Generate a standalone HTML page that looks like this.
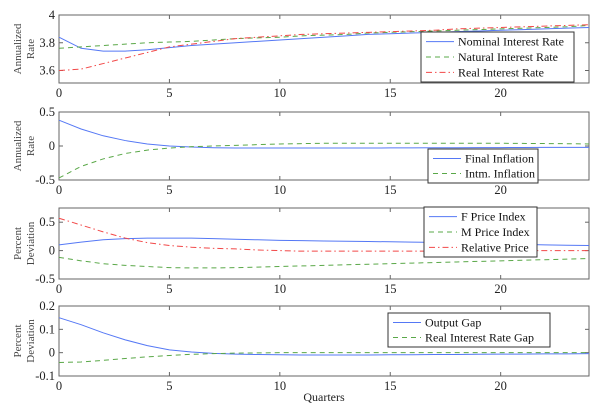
<!DOCTYPE html>
<html><head><meta charset="utf-8"><style>
body{margin:0;background:#fff}
svg, svg text{font-family:"Liberation Serif","Times New Roman","DejaVu Serif",serif}
</style></head><body>
<svg id="c" width="600" height="408" viewBox="0 0 600 408"></svg>
<script>
const quarters=[0,1,2,3,4,5,6,7,8,9,10,11,12,13,14,15,16,17,18,19,20,21,22,23,24];
const xTicks=[0,5,10,15,20];
const nominalRate=[3.84,3.76,3.74,3.74,3.75,3.765,3.78,3.79,3.80,3.81,3.82,3.83,3.84,3.85,3.86,3.865,3.87,3.875,3.88,3.885,3.89,3.895,3.9,3.905,3.91];
const naturalRate=[3.76,3.77,3.78,3.79,3.80,3.805,3.81,3.82,3.83,3.835,3.84,3.85,3.855,3.86,3.87,3.875,3.88,3.885,3.89,3.895,3.9,3.905,3.91,3.915,3.925];
const realRate=[3.60,3.61,3.65,3.69,3.73,3.77,3.79,3.81,3.83,3.84,3.85,3.86,3.865,3.87,3.875,3.88,3.885,3.89,3.9,3.905,3.91,3.915,3.92,3.925,3.93];
const finalInfl=[0.38,0.25,0.15,0.08,0.03,0.0,-0.015,-0.025,-0.03,-0.03,-0.03,-0.03,-0.03,-0.03,-0.03,-0.028,-0.027,-0.026,-0.025,-0.024,-0.023,-0.022,-0.021,-0.02,-0.02];
const intmInfl=[-0.47,-0.3,-0.19,-0.11,-0.06,-0.03,-0.01,0.0,0.01,0.02,0.03,0.035,0.04,0.04,0.04,0.04,0.04,0.04,0.04,0.04,0.04,0.038,0.036,0.034,0.03];
const fPrice=[0.1,0.15,0.19,0.21,0.22,0.22,0.22,0.21,0.2,0.19,0.18,0.175,0.17,0.165,0.16,0.155,0.15,0.145,0.14,0.13,0.12,0.11,0.1,0.095,0.09];
const mPrice=[-0.12,-0.18,-0.23,-0.26,-0.28,-0.3,-0.305,-0.305,-0.3,-0.29,-0.28,-0.27,-0.26,-0.25,-0.24,-0.23,-0.22,-0.21,-0.2,-0.19,-0.18,-0.17,-0.16,-0.15,-0.14];
const relPrice=[0.57,0.45,0.33,0.22,0.14,0.09,0.06,0.04,0.03,0.01,0.0,-0.01,-0.01,-0.01,-0.01,-0.01,-0.01,-0.01,-0.01,-0.01,-0.005,0,0,0,0];
const outputGap=[0.15,0.12,0.085,0.055,0.03,0.012,0.003,-0.003,-0.006,-0.008,-0.009,-0.01,-0.01,-0.01,-0.01,-0.009,-0.009,-0.008,-0.008,-0.007,-0.006,-0.006,-0.005,-0.005,-0.004];
const realRateGap=[-0.042,-0.04,-0.033,-0.025,-0.018,-0.012,-0.007,-0.004,-0.002,-0.001,0,0,0,0,0,0,0,0,0,0,0,0,0,0,0];

const NS="http://www.w3.org/2000/svg";
const FONT='"Liberation Serif","Times New Roman","DejaVu Serif",serif';
const svg=document.getElementById('c');
function el(t,a,p){const e=document.createElementNS(NS,t);for(const k in a)e.setAttribute(k,a[k]);if(t==='text')e.setAttribute('font-family',FONT);(p||svg).appendChild(e);return e;}
const X0=59,X1=589;
const xs=v=>X0+(v-0)/(24-0)*(X1-X0);
const BLUE='#5578f5',GREEN='#5aa848',RED='#f24848';
const styles={solid:{stroke:BLUE,dash:''},dash:{stroke:GREEN,dash:'5,4'},dashdot:{stroke:RED,dash:'6,3,1.5,3'}};
const panels=[
 {top:15,bot:83,ymin:3.51,ymax:4,ticks:[3.6,3.8,4],tl:['3.6','3.8','4'],yl:['Annualized','Rate'],
  series:[[nominalRate,'solid','Nominal Interest Rate'],[naturalRate,'dash','Natural Interest Rate'],[realRate,'dashdot','Real Interest Rate']],
  leg:{x:421,y:32,w:153,h:50}},
 {top:112,bot:180,ymin:-0.5,ymax:0.5,ticks:[-0.5,0,0.5],tl:['-0.5','0','0.5'],yl:['Annualized','Rate'],
  series:[[finalInfl,'solid','Final Inflation'],[intmInfl,'dash','Intm. Inflation']],
  leg:{x:428,y:149,w:110,h:34}},
 {top:208,bot:279,ymin:-0.5,ymax:0.75,ticks:[-0.5,0,0.5],tl:['-0.5','0','0.5'],yl:['Percent','Deviation'],
  series:[[fPrice,'solid','F Price Index'],[mPrice,'dash','M Price Index'],[relPrice,'dashdot','Relative Price']],
  leg:{x:424,y:207,w:113,h:50}},
 {top:306,bot:376,ymin:-0.1,ymax:0.2,ticks:[-0.1,0,0.1,0.2],tl:['-0.1','0','0.1','0.2'],yl:['Percent','Deviation'],
  series:[[outputGap,'solid','Output Gap'],[realRateGap,'dash','Real Interest Rate Gap']],
  leg:{x:388,y:313,w:162,h:34}}
];
panels.forEach((p,pi)=>{
 const g=el('g',{});
 
 
 const ys=v=>p.bot-(v-p.ymin)/(p.ymax-p.ymin)*(p.bot-p.top);
 el('rect',{x:X0,y:p.top,width:X1-X0,height:p.bot-p.top,fill:'#fff',stroke:'#666','stroke-width':1},g);
 xTicks.forEach((t,i)=>{
  const x=xs(t);
  el('line',{x1:x,x2:x,y1:p.bot,y2:p.bot-4,stroke:'#666'},g);
  el('line',{x1:x,x2:x,y1:p.top,y2:p.top+4,stroke:'#666'},g);
  const tx=el('text',{x:x,y:p.bot+14,'font-size':12.5,'text-anchor':'middle',fill:'#222'},g);
  
  
  tx.textContent=t;
 });
 p.ticks.forEach((t,i)=>{
  const y=ys(t);
  el('line',{x1:X0,x2:X0+4,y1:y,y2:y,stroke:'#666'},g);
  el('line',{x1:X1,x2:X1-4,y1:y,y2:y,stroke:'#666'},g);
  const tx=el('text',{x:X0-4,y:y+4,'font-size':12.5,'text-anchor':'end',fill:'#222'},g);
  
  
  tx.textContent=p.tl[i];
 });
 const cy=(p.top+p.bot)/2;
 const yl=el('text',{transform:`translate(23,${cy}) rotate(-90)`,'font-size':11,'text-anchor':'middle',fill:'#444'},g);
 
 
 el('tspan',{x:0,dy:-2},yl).textContent=p.yl[0];
 el('tspan',{x:0,dy:13},yl).textContent=p.yl[1];
 p.series.forEach(([d,st,name])=>{
  const s=styles[st];
  const pth=el('polyline',{points:d.map((v,i)=>xs(quarters[i])+','+ys(v)).join(' '),fill:'none',stroke:s.stroke,'stroke-width':1,'stroke-dasharray':s.dash},g);
  
  
 });
 const L=p.leg;
 const lg=el('g',{},g);
 
 
 el('rect',{x:L.x,y:L.y,width:L.w,height:L.h,fill:'#fff',stroke:'#333','stroke-width':1},lg);
 const n=p.series.length, rowH=(L.h-4)/n;
 p.series.forEach(([d,st,name],i)=>{
  const s=styles[st];
  const y=L.y+2+rowH*(i+0.5);
  el('line',{x1:L.x+5,x2:L.x+33,y1:y,y2:y,stroke:s.stroke,'stroke-dasharray':s.dash},lg);
  const t=el('text',{x:L.x+37,y:y+4,'font-size':12,fill:'#111'},lg);
  
  
  t.textContent=name;
 });
});
const xt=el('text',{x:324,y:401,'font-size':12,'text-anchor':'middle',fill:'#222'});


xt.textContent='Quarters';
</script>
</body></html>
